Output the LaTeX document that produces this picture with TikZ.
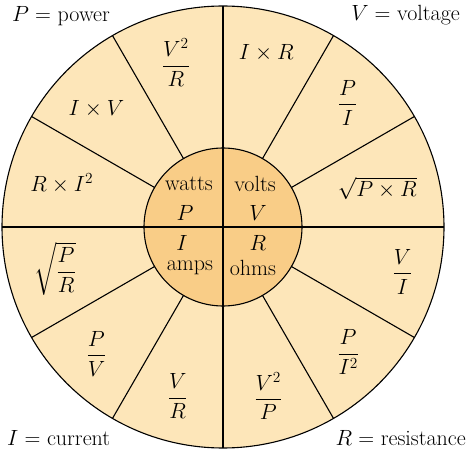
\RequirePackage{fix-cm}
\documentclass[tikz,border=0pt]{standalone}
\usepackage{amsmath,amssymb}
\usepackage{xcolor}
\usepackage{tikz}
\definecolor{WheelLight}{RGB}{253,230,185}
\definecolor{WheelDark}{RGB}{249,205,135}

\begin{document}
\begin{tikzpicture}[x=1pt,y=1pt,every node/.style={font=\fontsize{22}{25}\selectfont}]
\tikzset{rim/.style={draw=black,line width=1.1pt},formula/.style={inner sep=1pt,align=center},corner/.style={inner sep=0pt}}
\useasboundingbox (-223,-225) rectangle (245,227);
\coordinate (hub) at (0,0);
% wheel
\draw[rim,fill=WheelLight] (hub) circle (221);
\draw[rim,fill=WheelDark] (hub) circle (79);
\foreach \a in {0,30,...,330} \draw[rim] (\a:79) -- (\a:221);
\draw[rim] (-79,0) -- (79,0);
\draw[rim] (0,-79) -- (0,79);
% hub quantities
\node[formula] (watts) at (-34,43) {watts};
\node[formula] (pw) at (-38,14) {$P$};
\node[formula] (volts) at (32,43) {volts};
\node[formula] (vt) at (35,14) {$V$};
\node[formula] (cur) at (-41,-16) {$I$};
\node[formula] (amps) at (-33,-41) {amps};
\node[formula] (res) at (35,-16) {$R$};
\node[formula] (ohms) at (30,-41) {ohms};
% formulas
\node[formula] (ixr) at (76:179) {$I\times R$};
\node[formula] (pdi) at (45:176) {$\dfrac{P}{I}$};
\node[formula] (spr) at (14:159) {$\sqrt{P\times R}$};
\node[formula] (vdi) at (346:185) {$\dfrac{V}{I}$};
\node[formula] (pdii) at (315:177) {$\dfrac{P}{I^2}$};
\node[formula] (vvdp) at (285:175) {$\dfrac{V^2}{P}$};
\node[formula] (vdr) at (255:175) {$\dfrac{V}{R}$};
\node[formula] (pdv) at (225:179) {$\dfrac{P}{V}$};
\node[formula] (spdr) at (194:173) {$\sqrt{\dfrac{P}{R}}$};
\node[formula] (rii) at (165:167) {$R\times I^2$};
\node[formula] (ixv) at (137:173) {$I\times V$};
\node[formula] (vvdr) at (106:171) {$\dfrac{V^2}{R}$};
% legend
\node[corner,anchor=west] (power) at (-211,211) {$P=$ power};
\node[corner,anchor=east] (voltage) at (237,212) {$V=$ voltage};
\node[corner,anchor=west] (current) at (-216,-211) {$I=$ current};
\node[corner,anchor=east] (resistance) at (243,-211) {$R=$ resistance};
\end{tikzpicture}
\end{document}
